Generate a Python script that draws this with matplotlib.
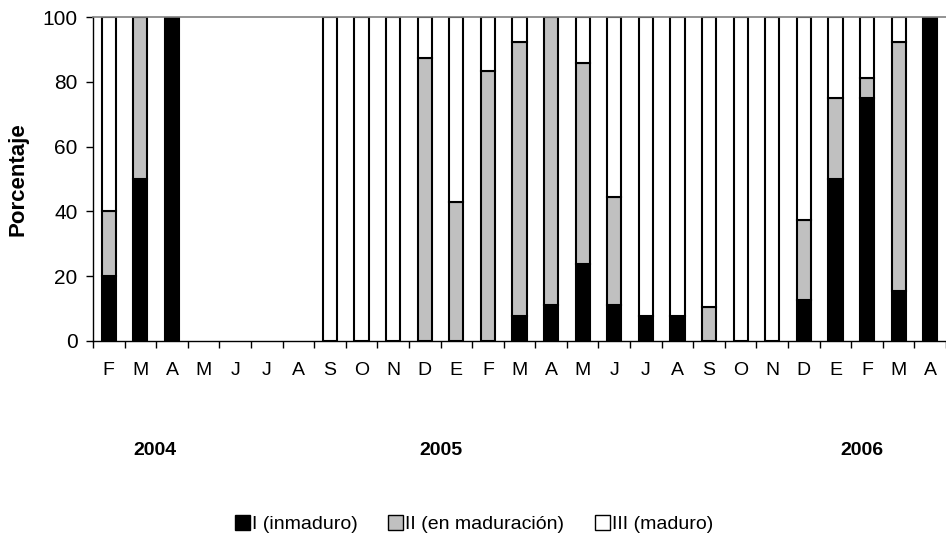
import matplotlib
matplotlib.use('Agg')
import matplotlib.pyplot as plt
import numpy as np
from matplotlib.patches import Patch

plt.rcParams['font.family'] = ['Liberation Sans', 'DejaVu Sans']

meses = ['F', 'M', 'A', 'M', 'J', 'J', 'A', 'S', 'O', 'N', 'D', 'E', 'F',
         'M', 'A', 'M', 'J', 'J', 'A', 'S', 'O', 'N', 'D', 'E', 'F', 'M', 'A']
# porcentajes por estadio de madurez
inmaduro = [20, 50, 100, 0, 0, 0, 0, 0, 0, 0, 0, 0, 0,
            7.7, 11.1, 23.8, 11.1, 7.7, 7.7, 0, 0, 0, 12.5, 50, 75, 15.4, 100]
en_maduracion = [20, 50, 0, 0, 0, 0, 0, 0, 0, 0, 87.5, 42.9, 83.3,
                 84.6, 88.9, 61.9, 33.3, 0, 0, 10.5, 0, 0, 25, 25, 6.25, 76.9, 0]
maduro = [60, 0, 0, 0, 0, 0, 0, 100, 100, 100, 12.5, 57.1, 16.7,
          7.7, 0, 14.3, 55.6, 92.3, 92.3, 89.5, 100, 100, 62.5, 25, 18.75, 7.7, 0]
anios = ['2004', '2005', '2006']

x = np.arange(len(meses))
inm = np.array(inmaduro)
enm = np.array(en_maduracion)
mad = np.array(maduro)

fig = plt.figure(figsize=(9.46, 5.56), dpi=100)
ax = fig.add_axes([0.0983, 0.3867, 0.9017, 0.5827])

w = 0.45
bottom = np.zeros(len(meses))
for vals, col in [(inm, 'black'), (enm, '#c0c0c0'), (mad, 'white')]:
    # no dibujar los segmentos vacios
    edges = ['black' if v > 0 else 'none' for v in vals]
    ax.bar(x, vals, w, bottom=bottom, color=col, edgecolor=edges, linewidth=1.5)
    bottom = bottom + vals

ax.set_xlim(-0.5, len(meses) - 0.5)
ax.set_ylim(0, 100)
ax.set_yticks([0, 20, 40, 60, 80, 100])
ax.set_xticks(x)
ax.set_xticklabels(meses)
ax.set_xticks(np.arange(-0.5, len(meses), 1), minor=True)
ax.tick_params(axis='x', which='major', length=0, pad=15, labelsize=14)
ax.tick_params(axis='x', which='minor', length=5, direction='out', width=1)
ax.tick_params(axis='y', length=5, width=1, labelsize=15, pad=6)

ax.spines['right'].set_visible(False)
ax.spines['top'].set_color('#808080')
ax.spines['top'].set_linewidth(1.2)
ax.spines['left'].set_linewidth(1)
ax.spines['bottom'].set_linewidth(1)

ax.set_ylabel('Porcentaje', fontsize=16, fontweight='bold')
ax.yaxis.set_label_coords(-0.076, 0.5)

for anio, xf in zip(anios, [0.164, 0.466, 0.911]):
    fig.text(xf, 0.19, anio, fontsize=14, fontweight='bold', ha='center', va='center')

handles = [Patch(facecolor='black', edgecolor='black'),
           Patch(facecolor='#c0c0c0', edgecolor='black'),
           Patch(facecolor='white', edgecolor='black')]
fig.legend(handles, ['I (inmaduro)', 'II (en maduración)', 'III (maduro)'],
           loc='center', bbox_to_anchor=(0.501, 0.057), ncol=3, frameon=False,
           fontsize=14, handlelength=0.75, handleheight=0.75, handletextpad=0.1,
           columnspacing=1.6)

fig.savefig('out.png', dpi=100)
